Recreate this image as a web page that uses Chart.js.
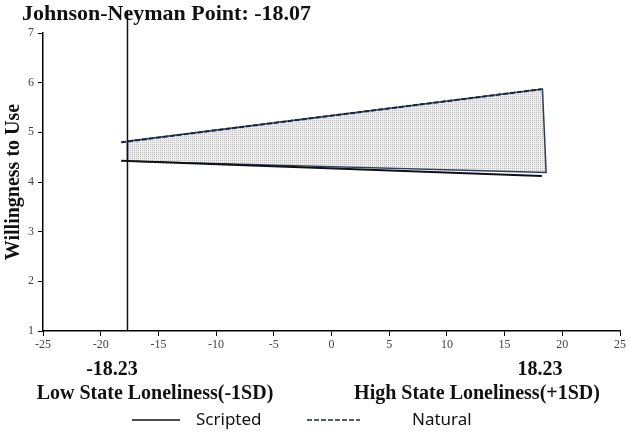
<!DOCTYPE html>
<html>
<head>
<meta charset="utf-8">
<script src="https://cdn.jsdelivr.net/npm/chart.js@4.4.1/dist/chart.umd.min.js"></script>
<style>
  html, body { margin: 0; padding: 0; background: #fff; }
  #wrap { width: 630px; height: 434px; }
</style>
</head>
<body>
<div id="wrap"><canvas id="jn-chart"></canvas></div>
<script>
// Johnson-Neyman plot: willingness to use across state loneliness
const xTicks = [-25, -20, -15, -10, -5, 0, 5, 10, 15, 20, 25];
const yTicks = [1, 2, 3, 4, 5, 6, 7];

// simple slopes at -1SD / +1SD
const sdX = [-18.23, 18.23];
const scriptedY = [4.43, 4.12];
const naturalY = [4.80, 5.87];

// vertical line at the JN point
const jnX = [-17.68, -17.68];
const jnY = [1, 7.45];

// shaded region of significance (outline as in the source figure)
const regionX = [-17.68, -17.68, 18.28, 18.6];
const regionY = [4.42, 4.82, 5.87, 4.19];

const titleText = 'Johnson-Neyman Point: -18.07';
const sdLabels = ['-18.23', '18.23'];
const sdNames = ['Low State Loneliness(-1SD)', 'High State Loneliness(+1SD)'];
const seriesNames = ['Scripted', 'Natural'];

const SERIF = "'Liberation Serif', 'Times New Roman', serif";
const SANS = "'Noto Sans', 'Liberation Sans', sans-serif";

// dotted grey fill like the original's pattern
function makeDots() {
  const c = document.createElement('canvas');
  c.width = 2;
  c.height = 2;
  const g = c.getContext('2d');
  g.fillStyle = '#eeeeee';
  g.fillRect(0, 0, 2, 2);
  g.fillStyle = '#bcbcbc';
  g.fillRect(0, 0, 1, 1);
  return g.createPattern(c, 'repeat');
}

const toPoints = (xs, ys) => xs.map((v, i) => ({ x: v, y: ys[i] }));

const regionPlugin = {
  id: 'region',
  beforeDatasetsDraw(chart) {
    const { ctx, scales: { x, y } } = chart;
    ctx.save();
    ctx.beginPath();
    regionX.forEach((v, i) => {
      const px = x.getPixelForValue(v);
      const py = y.getPixelForValue(regionY[i]);
      if (i === 0) ctx.moveTo(px, py);
      else ctx.lineTo(px, py);
    });
    ctx.closePath();
    ctx.fillStyle = makeDots();
    ctx.fill();
    ctx.strokeStyle = '#2e3d5e';
    ctx.lineWidth = 1.5;
    ctx.stroke();
    ctx.restore();
  }
};

const textPlugin = {
  id: 'texts',
  afterDraw(chart) {
    const ctx = chart.ctx;
    ctx.save();
    ctx.fillStyle = '#111';
    ctx.textBaseline = 'alphabetic';

    // title
    ctx.textAlign = 'left';
    ctx.font = 'bold 22px ' + SERIF;
    ctx.fillText(titleText, 22, 20);

    // -1SD / +1SD annotations
    ctx.textAlign = 'center';
    ctx.font = 'bold 20px ' + SERIF;
    ctx.fillText(sdLabels[0], 112, 375);
    ctx.fillText(sdLabels[1], 540, 375);
    ctx.fillText(sdNames[0], 155, 399);
    ctx.fillText(sdNames[1], 477, 399);

    // legend
    const items = [
      { x0: 132, x1: 180, tx: 196 },
      { x0: 307, x1: 360, tx: 412 }
    ];
    ctx.font = '17px ' + SANS;
    ctx.textAlign = 'left';
    ctx.textBaseline = 'middle';
    items.forEach((it, i) => {
      const ds = chart.data.datasets[i];
      ctx.beginPath();
      ctx.setLineDash(ds.borderDash || []);
      ctx.strokeStyle = ds.borderColor;
      ctx.lineWidth = 1.5;
      ctx.moveTo(it.x0, 420);
      ctx.lineTo(it.x1, 420);
      ctx.stroke();
      ctx.setLineDash([]);
      ctx.fillText(seriesNames[i], it.tx, 420);
    });
    ctx.restore();
  }
};

const axisGrid = {
  drawOnChartArea: false,
  drawTicks: true,
  tickLength: 5,
  color: '#000',
  lineWidth: 1
};

new Chart(document.getElementById('jn-chart'), {
  type: 'scatter',
  data: {
    datasets: [
      {
        label: seriesNames[0],
        data: toPoints(sdX, scriptedY),
        showLine: true,
        borderColor: '#111111',
        borderWidth: 2,
        pointRadius: 0
      },
      {
        label: seriesNames[1],
        data: toPoints(sdX, naturalY),
        showLine: true,
        borderColor: '#1c2640',
        borderWidth: 2,
        borderDash: [5, 2],
        pointRadius: 0
      },
      {
        label: 'JN',
        data: toPoints(jnX, jnY),
        showLine: true,
        borderColor: '#111111',
        borderWidth: 1.5,
        pointRadius: 0,
        clip: false
      }
    ]
  },
  options: {
    responsive: true,
    maintainAspectRatio: false,
    animation: false,
    layout: { padding: { top: 33, left: 0, right: 10, bottom: 0 } },
    plugins: {
      legend: { display: false },
      tooltip: { enabled: false }
    },
    scales: {
      x: {
        type: 'linear',
        min: -25,
        max: 25,
        afterBuildTicks: (s) => { s.ticks = xTicks.map(v => ({ value: v })); },
        afterFit: (s) => { s.height = 103; },
        grid: axisGrid,
        border: { display: true, color: '#000', width: 1.5 },
        ticks: {
          color: '#444',
          padding: 2,
          maxRotation: 0,
          font: { family: SERIF, size: 12 }
        }
      },
      y: {
        min: 1,
        max: 7,
        afterBuildTicks: (s) => { s.ticks = yTicks.map(v => ({ value: v })); },
        afterFit: (s) => { s.width = 43; },
        grid: axisGrid,
        border: { display: true, color: '#000', width: 1.5 },
        ticks: {
          color: '#444',
          padding: 4,
          font: { family: SERIF, size: 12 }
        },
        title: {
          display: true,
          text: 'Willingness to Use',
          color: '#111',
          padding: { top: 2, bottom: 0 },
          font: { family: SERIF, size: 20, weight: 'bold' }
        }
      }
    }
  },
  plugins: [regionPlugin, textPlugin]
});
</script>
</body>
</html>
